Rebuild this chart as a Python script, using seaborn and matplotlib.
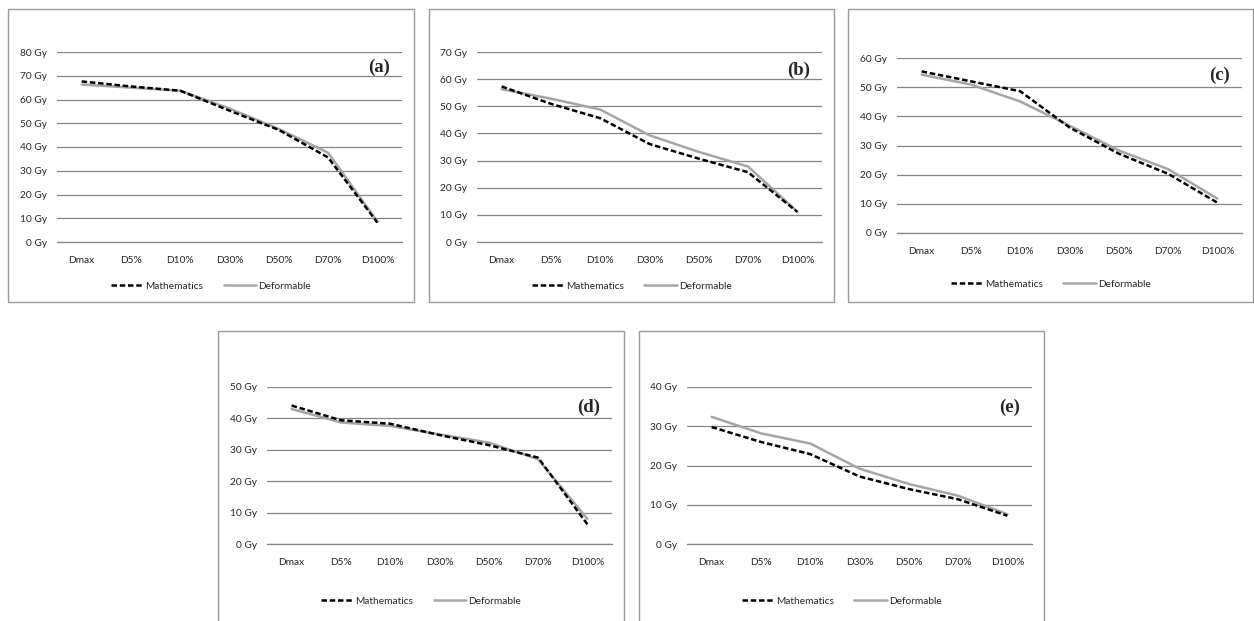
import pandas as pd
import seaborn as sns
import matplotlib.pyplot as plt
from matplotlib.patches import Rectangle
from matplotlib.lines import Line2D

# dose-volume points on the x axis
doses = ['Dmax', 'D5%', 'D10%', 'D30%', 'D50%', 'D70%', 'D100%']

# values (Gy)
math_a = [67.6, 65.5, 63.7, 55.3, 47.2, 35.6, 8.2]
def_a = [66.3, 65.0, 63.7, 56.2, 47.6, 37.6, 8.6]

math_b = [57.3, 50.9, 45.6, 36.1, 30.7, 25.7, 11.1]
def_b = [56.3, 52.8, 48.8, 39.3, 33.2, 27.8, 11.2]

math_c = [55.4, 52.0, 48.6, 36.2, 27.2, 20.3, 10.4]
def_c = [54.3, 50.9, 45.1, 36.8, 28.3, 21.9, 11.8]

math_d = [44.1, 39.4, 38.3, 34.7, 31.5, 27.5, 6.3]
def_d = [43.0, 38.7, 37.6, 34.9, 32.3, 27.0, 8.0]

math_e = [29.8, 26.0, 22.9, 17.2, 14.0, 11.4, 7.2]
def_e = [32.4, 28.2, 25.6, 19.2, 15.3, 12.3, 7.6]

ymaxes = [80, 70, 60, 50, 40]
labels = ['(a)', '(b)', '(c)', '(d)', '(e)']
series = [(math_a, def_a), (math_b, def_b), (math_c, def_c), (math_d, def_d), (math_e, def_e)]

sns.set_style('white')
plt.rcParams['font.family'] = ['Lato', 'DejaVu Sans']

W, H = 1254, 621
fig = plt.figure(figsize=(W / 100, H / 100), dpi=100)


def fx(px):
    return px / W


def fy(py):
    return 1 - py / H


# pixel layout: box (l, t, r, b), axes (l, t, r, b), label center y, legend y
layout = [
    ((8, 9, 414, 302), (57, 52, 402, 242), 67, 286),
    ((429, 9, 834, 302), (477, 52, 822, 242), 70, 286),
    ((848, 9, 1253, 302), (897, 58, 1242, 233), 75, 284),
    ((218, 331, 624, 640), (267, 387, 612, 544), 407, 601),
    ((639, 331, 1044, 640), (687, 387, 1032, 544), 407, 601),
]

grid_col = '#868686'
box_col = '#9a9a9a'
math_col = '#000000'
def_col = '#a6a6a6'
text_col = '#262626'
dash = (0, (2.2, 1.1))

for (m_vals, d_vals), ymax, lab, (box, axp, lab_y, leg_y) in zip(series, ymaxes, labels, layout):
    bl, bt, br, bb = box
    fig.patches.append(Rectangle((fx(bl), fy(bb)), fx(br - bl), (bb - bt) / H,
                                 transform=fig.transFigure, fill=False,
                                 edgecolor=box_col, linewidth=1.0))
    al, at, ar, ab = axp
    ax = fig.add_axes([fx(al), fy(ab), fx(ar - al), (ab - at) / H])

    df = pd.DataFrame({'dose': doses * 2,
                       'Gy': m_vals + d_vals,
                       'series': ['Mathematics'] * 7 + ['Deformable'] * 7})
    sns.lineplot(data=df[df['series'] == 'Deformable'], x='dose', y='Gy', ax=ax,
                 color=def_col, linewidth=1.8, sort=False, legend=False)
    sns.lineplot(data=df[df['series'] == 'Mathematics'], x='dose', y='Gy', ax=ax,
                 color=math_col, linewidth=1.8, sort=False, legend=False,
                 linestyle=dash)

    ax.set_xlim(-0.5, 6.5)
    ax.set_ylim(0, ymax)
    ax.set_yticks(range(0, ymax + 1, 10))
    ax.set_yticklabels([f'{v} Gy' for v in range(0, ymax + 1, 10)])
    ax.set_xlabel('')
    ax.set_ylabel('')
    ax.grid(axis='y', color=grid_col, linewidth=0.9)
    ax.set_axisbelow(True)
    for s in ['top', 'left', 'right']:
        ax.spines[s].set_visible(False)
    ax.spines['bottom'].set_color(grid_col)
    ax.spines['bottom'].set_linewidth(0.9)
    ax.tick_params(axis='y', length=0, pad=7, labelsize=7.3, colors=text_col)
    ax.tick_params(axis='x', length=0, pad=10, labelsize=7.3, colors=text_col)
    ax.patch.set_alpha(0)

    fig.text(fx(ar - 12), fy(lab_y), lab, ha='right', va='center',
             family='Liberation Serif', fontweight='bold', fontsize=13.5)

    handles = [Line2D([], [], color=math_col, linewidth=1.8, linestyle=dash),
               Line2D([], [], color=def_col, linewidth=1.8)]
    fig.legend(handles, ['Mathematics', 'Deformable'], loc='center',
               bbox_to_anchor=(fx((bl + br) / 2), fy(leg_y)), ncol=2, frameon=False,
               fontsize=7.3, handlelength=3.2, handletextpad=0.2, columnspacing=2.0,
               labelcolor=text_col)

fig.savefig('out.png', dpi=100)
